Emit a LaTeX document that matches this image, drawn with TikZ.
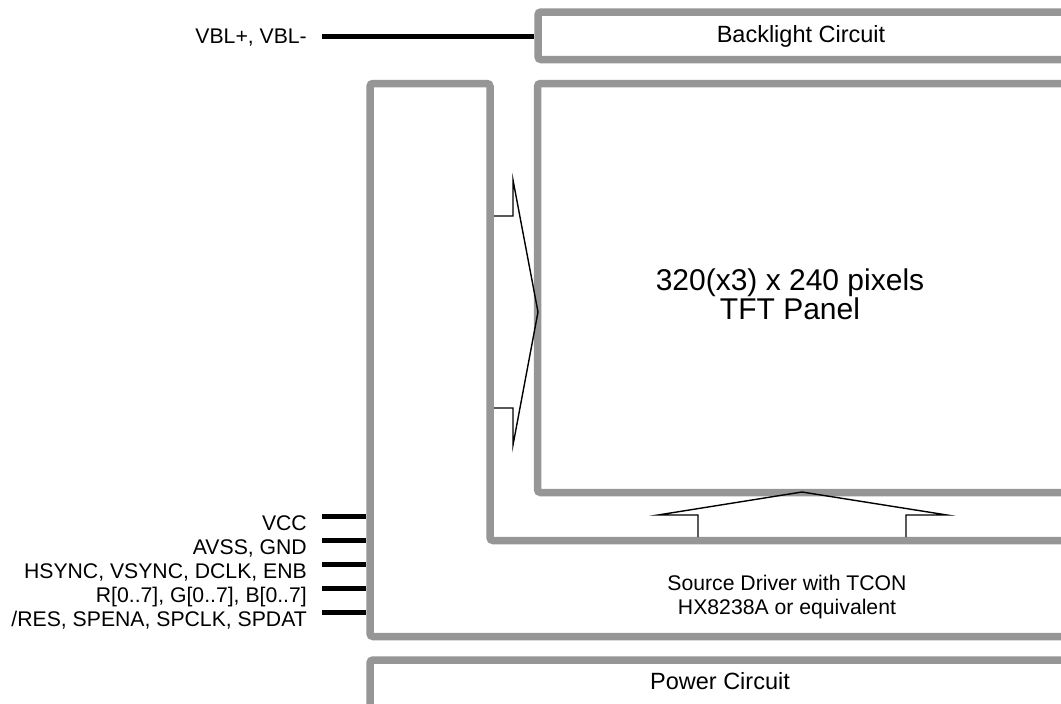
\documentclass[tikz,border=0pt]{standalone}
\usepackage{fontspec}
\setmainfont{Liberation Sans}
\definecolor{boxgray}{RGB}{150,150,150}
\begin{document}
\begin{tikzpicture}[x=1pt,y=-1pt,
  blk/.style={draw=boxgray,line width=7.5pt,rounded corners=3pt},
  pinline/.style={draw=black,line width=5pt},
  arrowshape/.style={draw=black,line width=1.4pt,miter limit=20},
  lbl/.style={inner sep=0pt,font=\fontsize{21.2}{24}\selectfont},
  mid/.style={inner sep=0pt,font=\fontsize{23.5}{26}\selectfont},
  big/.style={inner sep=0pt,font=\fontsize{30}{32}\selectfont}]
\useasboundingbox (0,0) rectangle (1061,704);
\clip (0,0) rectangle (1061,704);
% boxes
\draw[blk] (538,12) rectangle (1080,59.5);
\draw[blk] (537.5,83.5) rectangle (1080,492.5);
\draw[blk] (370,636.5) -- (370,83.5) -- (490,83.5) -- (490,540.5) -- (1080,540.5) -- (1080,636.5) -- cycle;
\draw[blk] (370,730) -- (370,660) -- (1080,660) -- (1080,730);
% anchors on boxes
\coordinate (blin) at (534,36);
\coordinate (pinx) at (366,0);
% texts
\node[mid,anchor=base] (bl) at (801,42) {Backlight Circuit};
\node[big,anchor=base] (tft1) at (790,290) {320(x3) x 240 pixels};
\node[big,anchor=base] (tft2) at (790,319) {TFT Panel};
\node[lbl,anchor=base] (sd1) at (787,590) {Source Driver with TCON};
\node[lbl,anchor=base] (sd2) at (787,614) {HX8238A or equivalent};
\node[mid,anchor=base] (pc) at (720,689) {Power Circuit};
\node[lbl,anchor=base east] (vbl) at (307,43) {VBL+, VBL-};
\node[lbl,anchor=base east] (p1) at (307,530) {VCC};
\node[lbl,anchor=base east] (p2) at (307,554) {AVSS, GND};
\node[lbl,anchor=base east] (p3) at (307,578) {HSYNC, VSYNC, DCLK, ENB};
\node[lbl,anchor=base east] (p4) at (307,602) {R[0..7], G[0..7], B[0..7]};
\node[lbl,anchor=base east] (p5) at (307,626) {/RES, SPENA, SPCLK, SPDAT};
% connector lines
\draw[pinline] (322,36) -- (blin);
\foreach \y/\n in {516/1,540/2,564/3,588/4,612/5}{
  \draw[pinline] (322,\y) -- (pinx |- 0,\y);
}
% arrows
\draw[arrowshape] (494,216) -- (513,216) -- (513,180) -- (538,312) -- (513,445) -- (513,408) -- (494,408);
\draw[arrowshape] (698,537) -- (698,515) -- (658,515) -- (802,492) -- (947,515) -- (906,515) -- (906,537);
\end{tikzpicture}
\end{document}
